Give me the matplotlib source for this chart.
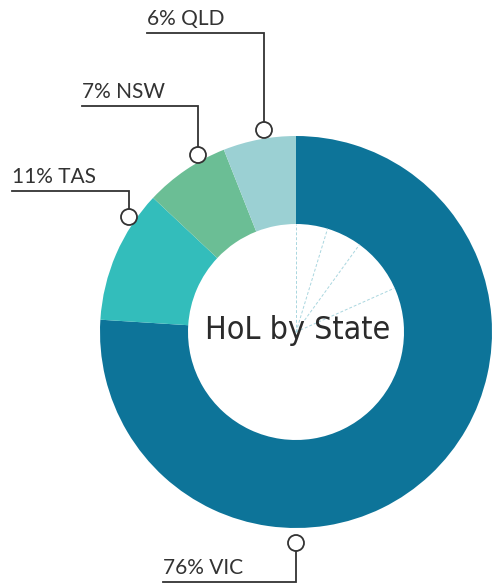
import matplotlib
matplotlib.use('Agg')
import matplotlib.pyplot as plt
from matplotlib.patches import Circle
import numpy as np

# data
states  = ['VIC', 'TAS', 'NSW', 'QLD']
shares  = [76, 11, 7, 6]
colours = ['#0d7499', '#33bdbb', '#6bbe95', '#9bd0d3']
guide_angles = [90, 73, 54, 24]   # faint dashed rays in the hole

W, H = 493, 584
fig = plt.figure(figsize=(W / 100, H / 100), dpi=100)
ax = fig.add_axes([0, 0, 1, 1])

cx, cy = 296, H - 332
r_out, r_in = 196, 108

ax.pie(shares, colors=colours, startangle=90, counterclock=False,
       center=(cx, cy), radius=r_out, frame=True,
       wedgeprops=dict(width=r_out - r_in, linewidth=0))
ax.set_xlim(0, W)
ax.set_ylim(0, H)
ax.set_aspect('equal')
ax.axis('off')

for a in guide_angles:
    t = np.deg2rad(a)
    ax.plot([cx, cx + r_in * np.cos(t)], [cy, cy + r_in * np.sin(t)],
            color='#a9d6df', lw=0.7, ls=(0, (3, 2)), zorder=3)

ax.text(cx + 2, cy + 1, 'HoL by State', ha='center', va='center',
        family=['DejaVu Sans'], fontstretch='condensed', fontweight='light',
        fontsize=23, color='#2b2b2b', zorder=4)

# label leaders: (text left x, line y, anchor x, anchor y) in pixels from top
leaders = {
    'QLD': (147, 33, 264, 130),
    'NSW': (82, 106, 198, 155),
    'TAS': (12, 191, 129, 217),
    'VIC': (163, 582, 296, 543),
}
for name, val in zip(states, shares):
    x0, ly, axp, ayp = leaders[name]
    ly, ayp = H - ly, H - ayp
    ax.plot([x0, axp, axp], [ly, ly, ayp], color='#333333', lw=1.3,
            zorder=5, solid_joinstyle='miter')
    ax.add_patch(Circle((axp, ayp), 8, facecolor='white', edgecolor='#333333',
                        lw=1.3, zorder=6))
    ax.text(x0, ly + 4, f'{val}% {name}', ha='left', va='bottom',
            family=['Lato', 'DejaVu Sans'], fontsize=15, color='#333333')

fig.savefig('out.png', dpi=100)
